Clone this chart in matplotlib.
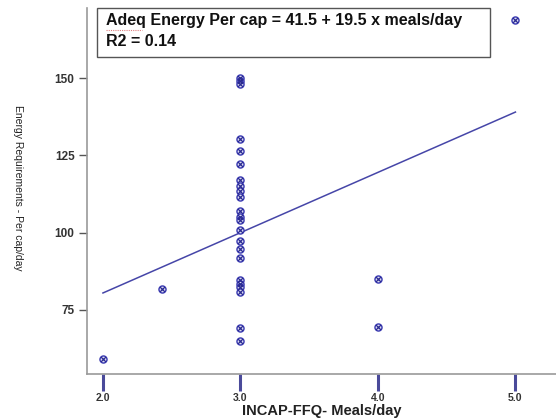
import matplotlib
matplotlib.use("Agg")
import matplotlib.pyplot as plt
import numpy as np
from matplotlib.patches import Rectangle
from matplotlib.lines import Line2D

plt.rcParams['font.family'] = ['Liberation Sans', 'DejaVu Sans']

meals = [2.0, 2.43, 3, 3, 3, 3, 3, 3, 3, 3, 3, 3, 3, 3, 3, 3, 3, 3, 3, 3, 3, 3, 3, 3, 3, 4.0, 4.0, 5.0]
energy = [59.1, 81.8, 150, 149, 148.2, 130.4, 126.3, 122.3, 117, 115.1, 113.5, 111.6, 106.9, 105, 104.1,
          100.9, 97.4, 94.7, 91.8, 84.7, 83.4, 82.3, 80.7, 69.1, 65.1, 85, 69.5, 168.8]
intercept = 41.5
slope = 19.5
x_ticks = [2.0, 3.0, 4.0, 5.0]
y_ticks = [75, 100, 125, 150]

W, H = 556, 418
fig = plt.figure(figsize=(W / 100, H / 100), dpi=100)
ax = fig.add_axes([87 / W, 44 / H, (W - 87) / W, 366 / H])

mc = '#3838b0'
ax.scatter(meals, energy, s=26, facecolors='#d8d8f0', edgecolors=mc, linewidths=1.0, marker='o', zorder=3)
ax.scatter(meals, energy, s=12, color='#2a2a90', linewidths=0.9, marker='x', zorder=4)

xl = np.array([min(meals), max(meals)])
ax.plot(xl, intercept + slope * xl, color='#4646a8', lw=1.1, zorder=2)

ax.set_xlim(1.884, 5.295)
ax.set_ylim(54.3, 172.65)
ax.set_xticks(x_ticks)
ax.set_xticklabels([f"{v:.1f}" for v in x_ticks], fontsize=7.5, fontweight='bold', color='#333333')
ax.set_yticks(y_ticks)
ax.set_yticklabels([str(v) for v in y_ticks], fontsize=8.5, fontweight='bold', color='#333333')

for s in ['top', 'right']:
    ax.spines[s].set_visible(False)
for s in ['left', 'bottom']:
    ax.spines[s].set_color('#9a9a9a')
    ax.spines[s].set_linewidth(1.2)

ax.tick_params(axis='x', direction='out', length=12, width=2.2, color='#4a4a9a', pad=1.5)
ax.tick_params(axis='y', direction='out', length=6, width=1.0, color='#555555', pad=3)

ax.set_xlabel("INCAP-FFQ- Meals/day", fontsize=10.5, fontweight='bold', color='#222222',
              va='center', ha='center')
ax.xaxis.set_label_coords(0.5, -(411 - 374) / 366)
ax.set_ylabel("Energy Requirements - Per cap/day", fontsize=7.5, rotation=-90, color='#222222',
              va='center', ha='center')
ax.yaxis.set_label_coords((18 - 87) / (W - 87), (374 - 188) / 366)

fig.patches.append(Rectangle((97 / W, 1 - 57 / H), (490 - 97) / W, 49 / H, transform=fig.transFigure,
                             facecolor='white', edgecolor='#555555', lw=1.0, zorder=5))
fig.text(106 / W, 1 - 21 / H, "Adeq Energy Per cap = 41.5 + 19.5 x meals/day", fontsize=11.5,
         fontweight='bold', va='center', ha='left', zorder=6, color='#111111')
fig.text(106 / W, 1 - 42 / H, "R2 = 0.14", fontsize=11.5, fontweight='bold', va='center', ha='left',
         zorder=6, color='#111111')
fig.add_artist(Line2D([106 / W, 142 / W], [1 - 30 / H, 1 - 30 / H], transform=fig.transFigure,
                      color='#e08080', lw=0.8, ls=(0, (1, 1)), zorder=7))

fig.savefig("out.png", dpi=100)
